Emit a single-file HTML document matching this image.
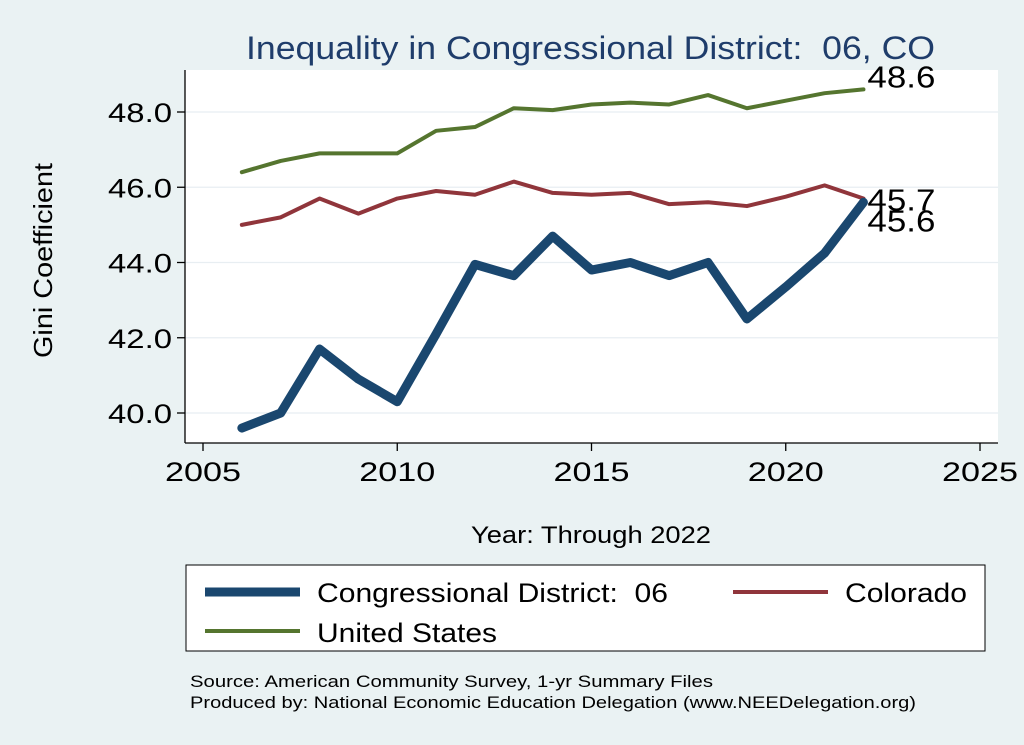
<!DOCTYPE html>
<html><head><meta charset="utf-8"><style>
body{margin:0;background:#eaf2f3;font-family:"Liberation Sans",sans-serif}
svg{display:block}
text{white-space:pre}
</style></head><body>
<svg width="1024" height="745" viewBox="0 0 1024 745">
<rect x="0" y="0" width="1024" height="745" fill="#eaf2f3"/>
<text x="246" y="59" font-size="32" fill="#1f3d6b" textLength="689" lengthAdjust="spacingAndGlyphs">Inequality in Congressional District:  06, CO</text>
<rect x="185" y="70" width="813" height="373" fill="#fff"/>
<g id="grid"></g>
<line x1="185" y1="70" x2="185" y2="443" stroke="#000" stroke-width="1.3"/>
<line x1="185" y1="443" x2="998" y2="443" stroke="#000" stroke-width="1.3"/>
<g id="ticks"></g>
<g id="series"></g>
<text x="52" y="358" transform="rotate(-90 52 358)" font-size="26" fill="#000" textLength="195" lengthAdjust="spacingAndGlyphs">Gini Coefficient</text>
<text x="471" y="543" font-size="24" fill="#000" textLength="240" lengthAdjust="spacingAndGlyphs">Year: Through 2022</text>
<g>
<rect x="186" y="565" width="799" height="86" fill="#fff" stroke="#000" stroke-width="1"/>
<line x1="205" y1="592" x2="300" y2="592" stroke="#1a476f" stroke-width="9"/>
<text x="317" y="602" font-size="27" textLength="351" lengthAdjust="spacingAndGlyphs">Congressional District:  06</text>
<line x1="733" y1="592" x2="828" y2="592" stroke="#90353b" stroke-width="4"/>
<text x="845" y="602" font-size="27" textLength="122" lengthAdjust="spacingAndGlyphs">Colorado</text>
<line x1="205" y1="631" x2="300" y2="631" stroke="#55752f" stroke-width="4"/>
<text x="317" y="642" font-size="27" textLength="180" lengthAdjust="spacingAndGlyphs">United States</text>
</g>
<text x="190" y="687" font-size="17" textLength="523" lengthAdjust="spacingAndGlyphs">Source: American Community Survey, 1-yr Summary Files</text>
<text x="190" y="708" font-size="17" textLength="726" lengthAdjust="spacingAndGlyphs">Produced by: National Economic Education Delegation (www.NEEDelegation.org)</text>
</svg>
<script>
const years=[2006,2007,2008,2009,2010,2011,2012,2013,2014,2015,2016,2017,2018,2019,2020,2021,2022];
const cd06=[39.6,40.0,41.7,40.9,40.3,42.1,43.95,43.65,44.7,43.8,44.0,43.65,44.0,42.5,43.35,44.25,45.6];
const colorado=[45.0,45.2,45.7,45.3,45.7,45.9,45.8,46.15,45.85,45.8,45.85,45.55,45.6,45.5,45.75,46.05,45.7];
const unitedStates=[46.4,46.7,46.9,46.9,46.9,47.5,47.6,48.1,48.05,48.2,48.25,48.2,48.45,48.1,48.3,48.5,48.6];
const xTicks=[2005,2010,2015,2020,2025];
const yTicks=[40,42,44,46,48];
const NS='http://www.w3.org/2000/svg';
const xs=v=>203+(v-2005)*(980-203)/20;
const ys=v=>413-(v-40)*(413-112)/8;
function mk(tag,attrs,parent){const e=document.createElementNS(NS,tag);for(const k in attrs)e.setAttribute(k,attrs[k]);parent.appendChild(e);return e;}
const grid=document.getElementById('grid'),ticks=document.getElementById('ticks'),series=document.getElementById('series');
yTicks.forEach(t=>{
 const g=mk('line',{x1:185,x2:998,y1:ys(t),y2:ys(t),stroke:'#e8eef2','stroke-width':1.3},grid);
 
 
 const tk=mk('line',{x1:177,x2:185,y1:ys(t),y2:ys(t),stroke:'#000','stroke-width':1.3},ticks);
 
 
 const l=mk('text',{x:108,y:ys(t)+10,'font-size':27,textLength:64,lengthAdjust:'spacingAndGlyphs'},ticks);
 l.textContent=t.toFixed(1);
 
 
});
xTicks.forEach(t=>{
 const tk=mk('line',{x1:xs(t),x2:xs(t),y1:443,y2:451,stroke:'#000','stroke-width':1.3},ticks);
 
 
 const l=mk('text',{x:xs(t)-38,y:481,'font-size':27,textLength:76,lengthAdjust:'spacingAndGlyphs'},ticks);
 l.textContent=t;
 
 
});
function line(vals,color,w,name){
 const p=mk('polyline',{points:vals.map((v,i)=>xs(years[i])+','+ys(v)).join(' '),fill:'none',stroke:color,'stroke-width':w,'stroke-linejoin':'round','stroke-linecap':'round'},series);
 
 
}
line(unitedStates,'#55752f',4,'line-united-states');
line(colorado,'#90353b',4,'line-colorado');
line(cd06,'#1a476f',9,'line-cd06');
function endLabel(vals,dy,name){
 const last=vals[vals.length-1];
 const t=mk('text',{x:xs(years[years.length-1])+4,y:ys(last)+dy,'font-size':31,textLength:68,lengthAdjust:'spacingAndGlyphs'},series);
 t.textContent=last.toFixed(1);
 
 
}
endLabel(unitedStates,-2,'label-us-2022');
endLabel(colorado,12,'label-colorado-2022');
endLabel(cd06,29,'label-cd06-2022');
</script>
</body></html>
